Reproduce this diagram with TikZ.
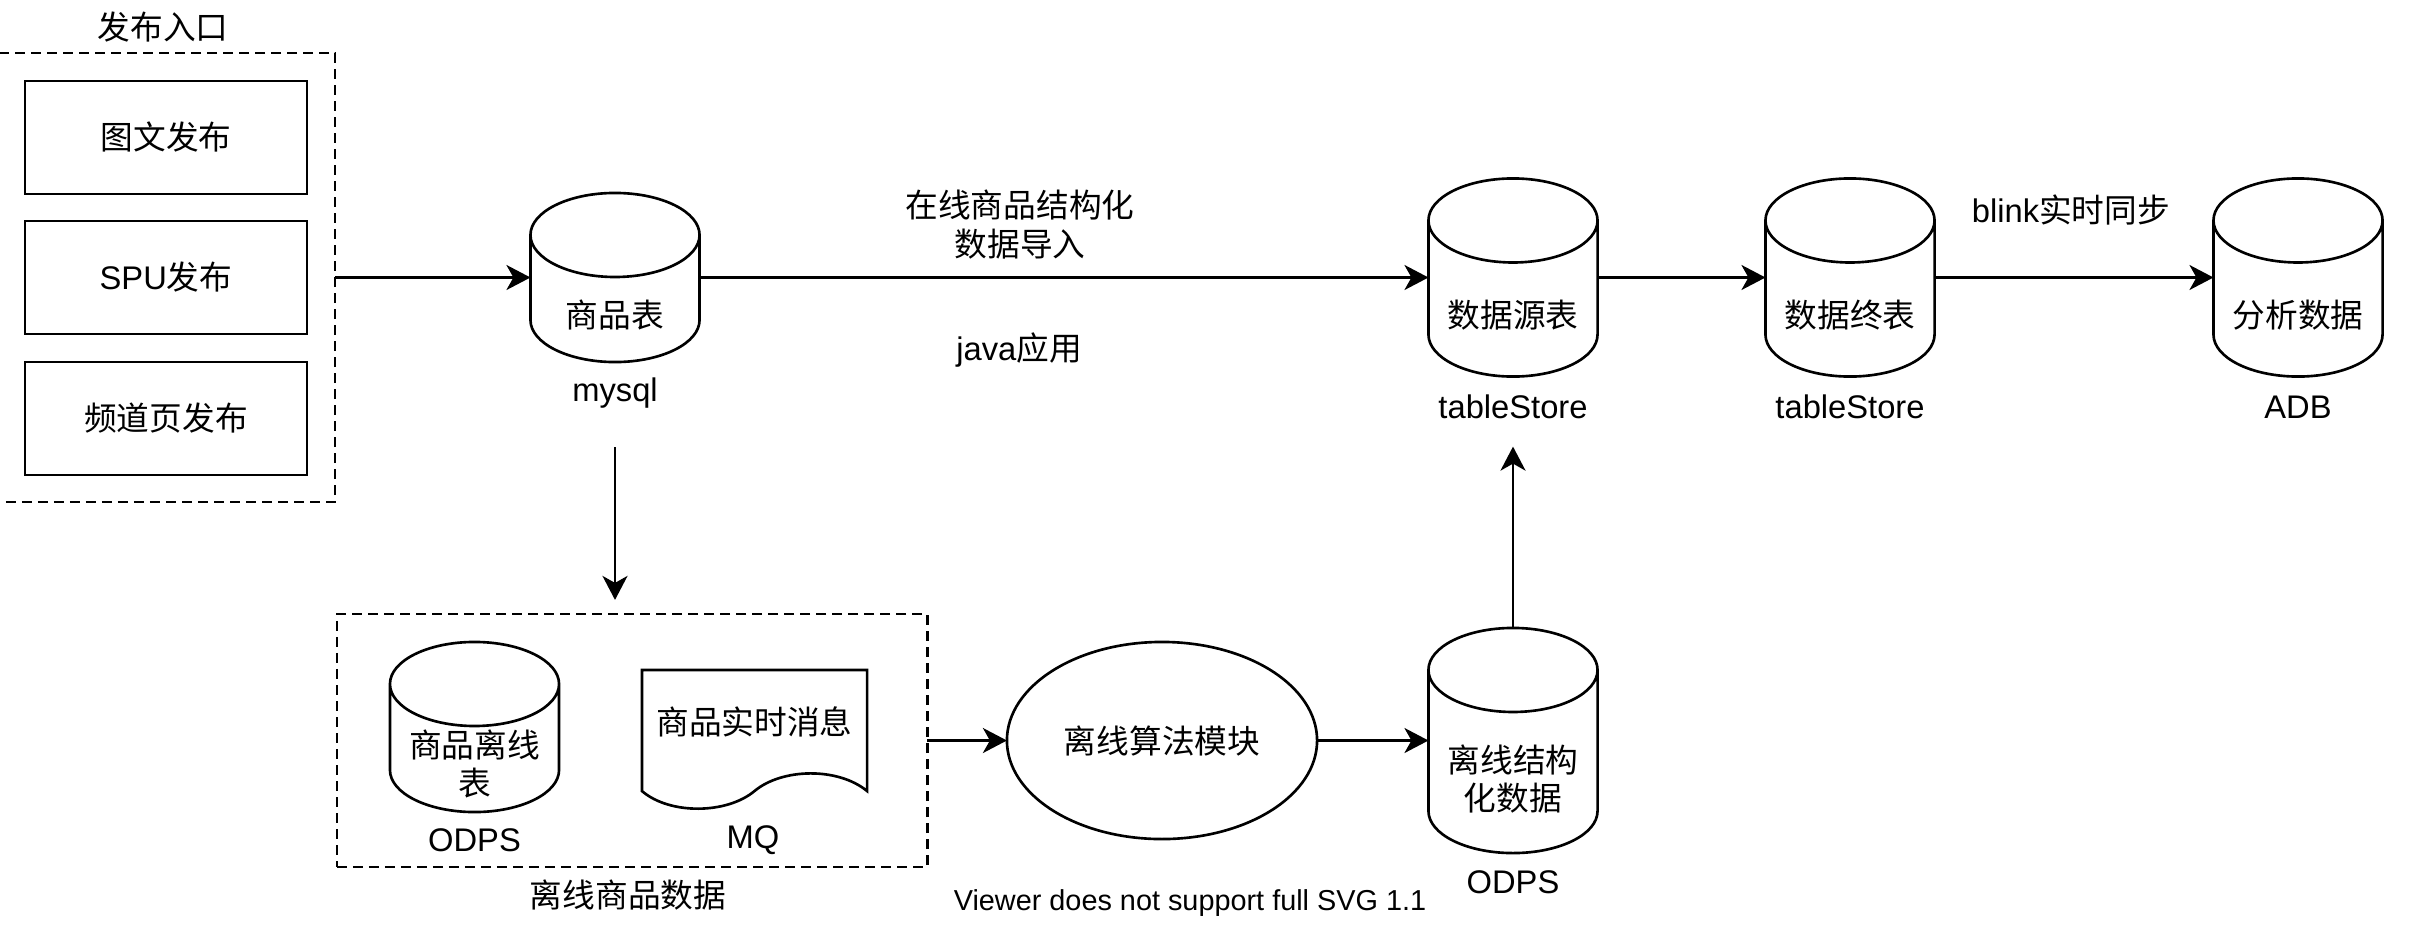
\documentclass[tikz,border=0pt]{standalone}
\usepackage{fontspec}
\setmainfont{Liberation Sans}
\newfontfamily\cjk{Noto Sans CJK SC}
\usepackage{tikz}
\usetikzlibrary{arrows.meta, calc, shapes.geometric}

\begin{document}
\begin{tikzpicture}[x=0.01cm, y=-0.01cm, line width=0.75pt,
	every node/.style={font=\fontsize{9.3pt}{10.9pt}\selectfont, inner sep=0pt, outer sep=0pt},
	pubbox/.style={draw, minimum width=2.82cm, minimum height=1.13cm},
	grpbox/.style={draw, dash pattern=on 0.1cm off 0.06cm},
	dbcyl/.style={minimum width=1.69cm},
	arr/.style={-{Stealth[length=0.24cm, width=0.25cm, inset=0.07cm]}}]
	
	\useasboundingbox (0,0) rectangle (2412,948);
	
	% publishing entries
	\node[grpbox, minimum width=3.45cm, minimum height=4.49cm] (pubgrp) at (162.5,277.5) {};
	\node (pubtitle) at (163,27) {\cjk 发布入口};
	\node[pubbox] (tuwen) at (166,137.5) {\cjk 图文发布};
	\node[pubbox] (spu) at (166,277.5) {SPU{\cjk 发布}};
	\node[pubbox] (pindao) at (166,418.5) {\cjk 频道页发布};
	
	% tables
	\node[dbcyl, minimum height=1.69cm] (mysql) at (615,277.5) {};
	\node[dbcyl, minimum height=1.70cm] (offtbl) at (474.5,727) {};
	\node[dbcyl, minimum height=1.98cm] (srctbl) at (1513,277.5) {};
	\node[dbcyl, minimum height=1.98cm] (endtbl) at (1850,277.5) {};
	\node[dbcyl, minimum height=1.98cm] (adb) at (2298,277.5) {};
	\node[dbcyl, minimum height=2.25cm] (offres) at (1513,740.5) {};
	\foreach \c in {mysql, offtbl, srctbl, endtbl, adb, offres}{
		\draw ([yshift=-0.42cm]\c.north west) arc[start angle=180, end angle=0, x radius=0.845cm, y radius=0.42cm]
		-- ([yshift=0.42cm]\c.south east) arc[start angle=0, end angle=-180, x radius=0.845cm, y radius=0.42cm] -- cycle
		([yshift=-0.42cm]\c.north west) arc[start angle=180, end angle=360, x radius=0.845cm, y radius=0.42cm];
	}
	\node (mysqltext) at (615,315) {\cjk 商品表};
	\node (mysqlname) at (615,393) {mysql};
	\node[align=center] (offtbltext) at (474.5,764) {{\cjk 商品离线}\\{\cjk 表}};
	\node (offtblname) at (474.5,840) {ODPS};
	\node (srctext) at (1513,315) {\cjk 数据源表};
	\node (srcname) at (1513,407) {tableStore};
	\node (endtext) at (1850,315) {\cjk 数据终表};
	\node (endname) at (1850,407) {tableStore};
	\node (adbtext) at (2298,315) {\cjk 分析数据};
	\node (adbname) at (2298,407) {ADB};
	\node[align=center] (offrestext) at (1513,779) {{\cjk 离线结构}\\{\cjk 化数据}};
	\node (offresname) at (1513,882) {ODPS};
	
	% offline goods data
	\node[grpbox, minimum width=5.90cm, minimum height=2.53cm] (offgrp) at (632,740.5) {};
	\node (offtitle) at (628,895) {\cjk 离线商品数据};
	\node[minimum width=2.25cm, minimum height=1.21cm] (mq) at (754.5,730.5) {};
	\draw (mq.south west) -- (mq.north west) -- (mq.north east) -- (mq.south east)
	.. controls +(-0.29cm,0.24cm) and +(0.275cm,0.23cm) .. (mq.south)
	.. controls +(-0.275cm,-0.23cm) and +(0.28cm,-0.24cm) .. (mq.south west) -- cycle;
	\node (mqtext) at (754.5,722) {\cjk 商品实时消息};
	\node (mqname) at (753,840) {MQ};
	
	\node[draw, ellipse, minimum width=3.10cm, minimum height=1.97cm] (algo) at (1162,740.5) {\cjk 离线算法模块};
	
	% edge labels
	\node[align=center] (onlinetext) at (1020,224.5) {{\cjk 在线商品结构化}\\{\cjk 数据导入}};
	\node (javatext) at (1019,350) {java{\cjk 应用}};
	\node (blinktext) at (2071,210) {blink{\cjk 实时同步}};
	\node[font=\fontsize{8.2pt}{10pt}\selectfont] (viewer) at (1190,903) {Viewer does not support full SVG 1.1};
	
	% flows
	\draw[arr] (pubgrp) -- (mysql);
	\draw[arr] (mysql) -- (srctbl);
	\draw[arr] (srctbl) -- (endtbl);
	\draw[arr] (endtbl) -- (adb);
	\draw[arr] ([yshift=-0.85cm]mysql.south) -- ([yshift=0.14cm]mysql.south |- offgrp.north);
	\draw[arr] (offgrp) -- (algo);
	\draw[arr] (algo) -- (offres);
	\draw[arr] (offres) -- ([yshift=-0.7cm]srctbl.south);
	
\end{tikzpicture}
\end{document}
